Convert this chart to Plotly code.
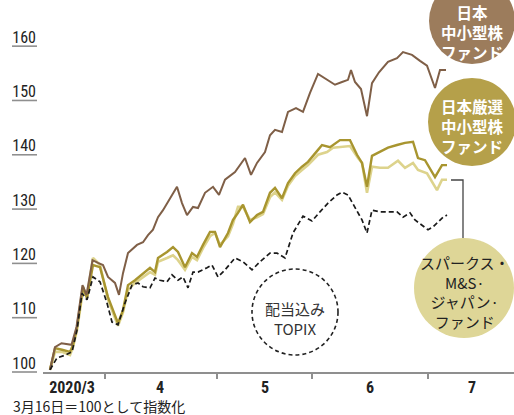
import plotly.graph_objects as go

# ---------------- data ----------------
# x = trading-day-like position counted from 2020-03-16 (=0)
brown_x = [0, 1, 2.3, 4.3, 5.3, 6.5, 7.3, 8.5, 9.6, 10.6, 11.6, 13, 13.8, 14.6, 15.6, 17.4, 18.6, 19.6,
           20.6, 21.6, 22.6, 23.6, 24.6, 25.4, 26.4, 27.4, 28.6, 29.6, 31, 32.6, 33.8, 35, 37, 39, 40.2,
           41.4, 43, 44, 45, 46.4, 47.6, 49.2, 50.6, 52, 53.6, 55.4, 57, 58.4, 59.6, 60.2, 61, 62.2,
           63.4, 64.4, 65.8, 67.6, 69.4, 70.6, 72.4, 74, 75.4, 77, 78, 79.2]
brown_y = [100.4, 104.6, 105.3, 105.0, 108.3, 116.0, 114.2, 120.6, 120.1, 119.7, 117.5, 116.4, 114.2,
           118.2, 121.9, 123.4, 123.9, 125.2, 126.2, 128.5, 129.8, 131.3, 133.0, 134.1, 131.1, 128.9,
           130.4, 130.2, 133.0, 134.1, 132.6, 135.4, 136.8, 139.4, 136.3, 138.5, 140.5, 143.6, 144.6,
           144.2, 147.9, 148.6, 147.9, 151.4, 154.9, 153.8, 152.9, 153.4, 153.8, 155.6, 153.4, 152.1,
           147.1, 153.2, 155.2, 157.1, 157.8, 158.9, 158.4, 157.3, 156.4, 152.3, 155.6, 155.6]

gold_x = [0, 1, 2.4, 4, 4.6, 5.4, 6.6, 7.4, 8.6, 10, 11.6, 13.6, 14.6, 15.6, 17, 18.6, 20, 21, 21.6,
          23.4, 24.6, 25.6, 27, 28.4, 29.4, 30.6, 32, 33, 34, 35.6, 36.6, 37.6, 38.6, 40, 41.4, 42.6,
          44, 45, 46.4, 47.6, 49, 50.4, 51.6, 53.6, 54.4, 56, 58, 60, 61.4, 62.4, 63.4, 64.4, 66, 67.6,
          69.4, 71, 72.6, 73.6, 75, 77, 78.4, 79.4]
gold_y = [100.4, 104.4, 104.1, 103.7, 105.0, 108.3, 115.7, 113.6, 119.7, 119.3, 113.8, 109.0, 111.4,
          116.0, 116.9, 118.2, 119.2, 118.4, 121.0, 122.1, 123.0, 122.1, 119.3, 121.9, 121.2, 123.4,
          125.8, 125.8, 123.0, 125.6, 128.0, 129.3, 130.8, 127.6, 128.9, 129.5, 133.0, 133.9, 132.0,
          134.8, 136.6, 137.8, 138.7, 140.9, 141.8, 141.4, 142.7, 142.7, 140.0, 138.5, 134.1, 139.8,
          140.5, 141.3, 141.8, 142.2, 142.4, 139.4, 139.0, 135.9, 138.1, 138.1]

sparx_x = [0, 1, 2.4, 4, 4.6, 5.4, 6.6, 7.4, 8.6, 10, 11.6, 13.6, 14.6, 15.6, 17, 18.6, 20, 21, 21.6,
           23.4, 24.6, 25.6, 27, 28.4, 29.4, 30.6, 32, 33, 34, 35.6, 36.6, 37.6, 38.6, 40, 41.4, 42.6,
           44, 45, 46.4, 47.6, 49, 50.4, 51.6, 53.6, 55.4, 56.6, 58, 60, 61.6, 62.4, 63.4, 64.4, 66,
           67.6, 69.6, 71, 72.6, 73.6, 75.4, 77.4, 78.4, 79.4]
sparx_y = [100.4, 103.7, 103.7, 103.1, 104.6, 107.7, 115.1, 113.8, 121.0, 119.7, 113.3, 108.5, 111.0,
           115.1, 116.4, 117.5, 118.4, 117.9, 120.3, 121.0, 121.5, 120.6, 118.8, 121.2, 120.6, 122.8,
           125.0, 125.6, 123.4, 125.0, 127.3, 130.4, 130.4, 128.0, 128.5, 129.1, 132.2, 133.1, 131.7,
           134.3, 136.1, 137.2, 138.1, 140.0, 140.5, 141.3, 141.4, 141.6, 139.4, 138.5, 133.0, 137.8,
           137.6, 137.6, 138.9, 137.6, 138.5, 137.2, 136.6, 133.5, 135.4, 135.4]

topix_x = [0, 1.4, 3, 4.4, 5.4, 6.4, 7.4, 8.6, 10, 11.4, 12.4, 13.6, 15, 16.4, 17.6, 18.6, 20, 21, 22,
           23.4, 24.4, 25.6, 26.6, 27.6, 28.6, 29.6, 31.4, 32.4, 33.6, 35, 37, 38.6, 40.4, 42, 44, 45.4,
           47, 48.6, 50.6, 52.4, 54, 55.6, 57.4, 58.4, 59.6, 61, 62.4, 63.4, 64.4, 66, 67.6, 69.4, 70.6,
           72, 73, 74.4, 75.6, 76.6, 77.6, 78.6, 79.4]
topix_y = [100.4, 102.6, 103.1, 103.7, 107.7, 114.5, 113.3, 117.5, 116.6, 112.7, 109.2, 108.7, 112.7,
           116.0, 116.4, 115.7, 115.5, 117.3, 116.9, 116.6, 117.9, 116.9, 117.5, 115.5, 118.4, 118.4,
           119.2, 119.7, 117.5, 118.8, 121.0, 120.3, 118.8, 120.3, 121.9, 121.9, 121.0, 125.6, 128.7,
           127.8, 129.5, 131.1, 132.6, 133.1, 132.6, 130.4, 128.0, 125.6, 129.8, 129.5, 129.5, 129.5,
           128.5, 129.3, 128.0, 127.1, 126.2, 126.7, 127.6, 128.5, 128.9]

y_ticks = [100, 110, 120, 130, 140, 150, 160]
month_labels = ["2020/3", "4", "5", "6", "7"]
month_centers = [4.4, 22, 43, 64, 84.4]
month_bounds = [11, 33.4, 52.4, 75.6]

name_brown = "日本<br>中小型株<br>ファンド"
name_gold = "日本厳選<br>中小型株<br>ファンド"
name_sparx = "スパークス・<br>M&S·<br>ジャパン·<br>ファンド"
name_topix = "配当込み<br>TOPIX"
footnote = "3月16日＝100として指数化"

# ---------------- layout helpers ----------------
W, H = 514, 415
ML, MR, MT, MB = 43, 0, 0, 43
PW, PH = W - ML - MR, H - MT - MB
X_RANGE = [-1.4, 92.8]
Y_RANGE = [100, 168.5]

def px(x):
    return (x - ML) / PW

def py(y):
    return (H - MB - y) / PH

def vy(v):
    return (v - Y_RANGE[0]) / (Y_RANGE[1] - Y_RANGE[0])

NUM_FONT = "Liberation Sans Narrow, Roboto Condensed, Arial Narrow, Liberation Sans, sans-serif"
JP_FONT = "Noto Sans CJK JP, sans-serif"

C_BROWN = "#7f5f47"
C_GOLD = "#a8952f"
C_SPARX = "#ddd38c"
C_BROWN_FILL = "#9c7c5c"
C_GOLD_FILL = "#b5a04a"
C_SPARX_FILL = "#ded697"

fig = go.Figure()
fig.add_trace(go.Scatter(x=sparx_x, y=sparx_y, mode="lines",
                         line=dict(color=C_SPARX, width=2.6), showlegend=False))
fig.add_trace(go.Scatter(x=gold_x, y=gold_y, mode="lines",
                         line=dict(color=C_GOLD, width=2.4), showlegend=False))
fig.add_trace(go.Scatter(x=brown_x, y=brown_y, mode="lines",
                         line=dict(color=C_BROWN, width=2), showlegend=False))
fig.add_trace(go.Scatter(x=topix_x, y=topix_y, mode="lines",
                         line=dict(color="#1a1a1a", width=1.7, dash="5px,3px"), showlegend=False))

shapes = []
# underlines of y tick labels
for v in y_ticks:
    shapes.append(dict(type="line", xref="paper", yref="paper", x0=px(12), x1=px(37),
                       y0=vy(v), y1=vy(v), line=dict(color="#8f8f8f", width=1.6)))

def circle(cx, cy, r, fill, line=None):
    d = dict(type="circle", xref="paper", yref="paper",
             x0=px(cx - r), x1=px(cx + r), y0=py(cy + r), y1=py(cy - r),
             fillcolor=fill, layer="above")
    d["line"] = line if line else dict(width=0)
    return d

shapes.append(circle(472, 21, 43, C_BROWN_FILL))
shapes.append(circle(472, 122, 44, C_GOLD_FILL))
shapes.append(circle(464, 288, 50, C_SPARX_FILL))
shapes.append(circle(295, 312, 43, "rgba(255,255,255,0)",
                     dict(color="#222", width=1.6, dash="4px,3px")))
# connector for Sparx label
shapes.append(dict(type="path", xref="paper", yref="paper",
                   path=f"M {px(451)} {py(180)} L {px(463)} {py(180)} L {px(463)} {py(238)}",
                   line=dict(color="#444", width=1.3)))

def label(cx, cy, text, size, color):
    return dict(xref="paper", yref="paper", x=px(cx), y=py(cy), xanchor="center", yanchor="middle",
                text=text, showarrow=False, align="center",
                font=dict(family=JP_FONT, size=size, color=color))

annotations = [
    label(472, 32, "<b>" + name_brown + "</b>", 15.5, "white"),
    label(472, 126, "<b>" + name_gold + "</b>", 15.5, "white"),
    label(465, 292, name_sparx, 15, "#222"),
    label(295, 318, name_topix, 15, "#333"),
    dict(xref="paper", yref="paper", x=px(11), y=py(406), xanchor="left", yanchor="middle",
         text=footnote, showarrow=False, font=dict(family=JP_FONT, size=14, color="#222")),
]

fig.update_layout(
    width=W, height=H, margin=dict(l=ML, r=MR, t=MT, b=MB, pad=0),
    paper_bgcolor="white", plot_bgcolor="white",
    shapes=shapes, annotations=annotations, showlegend=False,
    xaxis=dict(range=X_RANGE, showgrid=False, zeroline=False, showline=True,
               linecolor="#8f8f8f", linewidth=2,
               tickmode="array", tickvals=month_centers, ticktext=month_labels, ticks="",
               tickfont=dict(family=NUM_FONT, size=16, color="#222", weight="bold"),
               minor=dict(tickmode="array", tickvals=month_bounds, ticks="outside",
                          ticklen=5, tickwidth=1.5, tickcolor="#8f8f8f")),
    yaxis=dict(range=Y_RANGE, showgrid=False, zeroline=False, showline=False,
               tickmode="array", tickvals=y_ticks, ticks="",
               ticklabelshift=-9, ticklabelstandoff=6,
               tickfont=dict(family=NUM_FONT, size=16, color="#222")),
)

fig.write_html("out.html")
